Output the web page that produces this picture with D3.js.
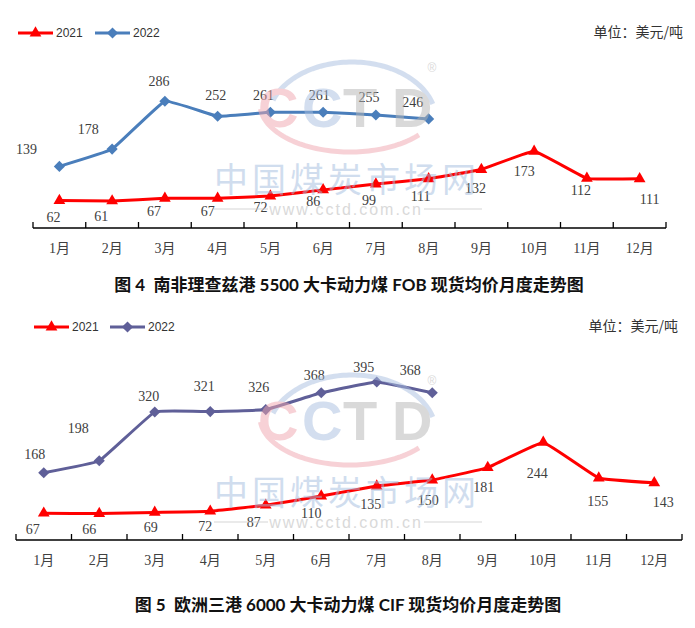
<!DOCTYPE html>
<html>
<head>
<meta charset="utf-8">
<script src="https://cdn.jsdelivr.net/npm/d3@7"></script>
<style>
    body { margin: 0; background: #fff; }
    text { white-space: pre; }
</style>
</head>
<body>
<svg id="chart" width="695" height="628"></svg>
<script>
const months = ["1月", "2月", "3月", "4月", "5月", "6月", "7月", "8月", "9月", "10月", "11月", "12月"];
const seriesNames = ["2021", "2022"];

// 南非理查兹港 5500 FOB
const fob2021 = [62, 61, 67, 67, 72, 86, 99, 111, 132, 173, 112, 111];
const fob2022 = [139, 178, 286, 252, 261, 261, 255, 246];

// 欧洲三港 6000 CIF
const cif2021 = [67, 66, 69, 72, 87, 110, 135, 150, 181, 244, 155, 143];
const cif2022 = [168, 198, 320, 321, 326, 368, 395, 368];

const titles = [
    "图 4  南非理查兹港 5500 大卡动力煤 FOB 现货均价月度走势图",
    "图 5  欧洲三港 6000 大卡动力煤 CIF 现货均价月度走势图"
];
const unitText = "单位：美元/吨";

// label nudges in px (labels were placed by hand)
const fob2021Nudge = [[-6, 17], [-11, 15], [-11, 13], [-10, 13], [-10, 11], [-10, 11], [-7, 16], [-8, 17], [-6, 19], [-10, 20], [-6, 12], [10, 20]];
const fob2022Nudge = [[-33, -17], [-24, -20], [-6, -20], [-2, -21], [-7, -17], [-4, -17], [-7, -18], [-16, -17]];
const cif2021Nudge = [[-11, 16], [-10, 15], [-4, 15], [-5, 15], [-12, 17], [-10, 17], [-6, 18], [-4, 20], [-4, 19], [-6, 31], [-1, 23], [9, 19]];
const cif2022Nudge = [[-9, -19], [-21, -33], [-6, -16], [-6, -26], [-7, -23], [-7, -18], [-13, -15], [-22, -23]];

const RED = "#ff0000";
const svg = d3.select("#chart");

const serif = "'Liberation Serif', 'Noto Sans CJK SC', serif";
const cjk = "'Noto Sans CJK SC', sans-serif";

/**
 * faint CCTD watermark, dy shifts it down for the second chart
 */
function drawWatermark(dy) {
    const wm = svg.append("g").attr("transform", `translate(0,${dy})`).attr("opacity", 0.5);

    const ellipseArc = (cx, cy, rx, ry, a0, a1) => {
        const pts = d3.range(a0, a1 + 0.5, 2).map(a => {
            const r = a * Math.PI / 180;
            return [cx + rx * Math.cos(r), cy + ry * Math.sin(r)];
        });
        return d3.line()(pts);
    };

    // blue upper arc, red lower arc
    wm.append("path")
        .attr("d", ellipseArc(352, 120, 84, 58, 200, 345))
        .attr("fill", "none").attr("stroke", "#a9bfe0").attr("stroke-width", 5);
    wm.append("path")
        .attr("d", ellipseArc(350, 104, 90, 48, 40, 175))
        .attr("fill", "none").attr("stroke", "#f0a5ae").attr("stroke-width", 5);

    const letters = [["C", "#f0a5ae", 258], ["C", "#a9bfe0", 302], ["T", "#b5b5b5", 343], ["D", "#b5b5b5", 392]];
    letters.forEach(([ch, col, lx]) => {
        wm.append("text")
            .attr("x", lx).attr("y", 127)
            .attr("font-family", "'Liberation Sans', Arial, sans-serif")
            .attr("font-weight", "bold")
            .attr("font-size", 56)
            .attr("fill", col)
            .text(ch);
    });
    wm.append("text")
        .attr("x", 432).attr("y", 72)
        .attr("text-anchor", "middle")
        .attr("font-family", "'Liberation Sans', Arial, sans-serif")
        .attr("font-size", 12)
        .attr("fill", "#b5b5b5")
        .text("®");

    wm.append("text")
        .attr("x", 214).attr("y", 192)
        .attr("font-family", cjk)
        .attr("font-size", 34)
        .attr("letter-spacing", 4)
        .attr("fill", "#a3bddf")
        .text("中国煤炭市场网");

    wm.append("text")
        .attr("x", 346).attr("y", 215)
        .attr("text-anchor", "middle")
        .attr("font-family", "'Liberation Sans', Arial, sans-serif")
        .attr("font-size", 16)
        .attr("letter-spacing", 2)
        .attr("fill", "#b5b5b5")
        .text("www.cctd.com.cn");
    wm.append("line").attr("x1", 214).attr("x2", 268).attr("y1", 209).attr("y2", 209)
        .attr("stroke", "#c8c8c8").attr("stroke-width", 1.5);
    wm.append("line").attr("x1", 424).attr("x2", 482).attr("y1", 209).attr("y2", 209)
        .attr("stroke", "#c8c8c8").attr("stroke-width", 1.5);
}

function markerPath(kind) {
    if (kind === "triangle") {
        return d3.symbol(d3.symbolTriangle, 60)();
    }
    return d3.symbol(d3.symbolSquare, 62)();
}

function drawMarker(g, kind, cx, cy, color) {
    g.append("path")
        .attr("d", markerPath(kind))
        .attr("transform", kind === "triangle"
            ? `translate(${cx},${cy})`
            : `translate(${cx},${cy}) rotate(45)`)
        .attr("fill", color);
}

function drawChart(cfg) {
    const g = svg.append("g");

    const x = d3.scaleBand().domain(months).range([cfg.x0, cfg.x1]);
    const y = d3.scaleLinear().domain([0, cfg.yMax]).range([cfg.axisY, cfg.yTop]);
    const cx = i => x(months[i]) + x.bandwidth() / 2;

    drawWatermark(cfg.wmDy);

    // category axis: labels via d3 axis, ticks on band edges pointing up
    const axis = g.append("g")
        .attr("transform", `translate(0,${cfg.axisY})`)
        .call(d3.axisBottom(x).tickSize(0).tickPadding(0));
    axis.select(".domain").remove();
    axis.selectAll("text")
        .attr("y", 20)
        .attr("dy", "0.35em")
        .attr("font-family", serif)
        .attr("font-size", 14)
        .attr("fill", "#404040");

    const edges = months.map(m => x(m)).concat([cfg.x1]);
    g.selectAll(".edge")
        .data(edges)
        .enter().append("line")
        .attr("x1", d => d).attr("x2", d => d)
        .attr("y1", cfg.axisY - 6).attr("y2", cfg.axisY)
        .attr("stroke", "#000").attr("stroke-width", 1.3);
    g.append("line")
        .attr("x1", cfg.x0).attr("x2", cfg.x1)
        .attr("y1", cfg.axisY).attr("y2", cfg.axisY)
        .attr("stroke", "#000").attr("stroke-width", 1.5);

    // Excel-style light smoothing
    const line = d3.line()
        .x((d, i) => cx(i))
        .y(d => y(d))
        .curve(d3.curveCardinal.tension(0.75));

    const series = [
        {name: seriesNames[0], values: cfg.a, nudge: cfg.aNudge, color: RED, marker: "triangle"},
        {name: seriesNames[1], values: cfg.b, nudge: cfg.bNudge, color: cfg.bColor, marker: "diamond"}
    ];

    series.forEach(s => {
        g.append("path")
            .datum(s.values)
            .attr("d", line)
            .attr("fill", "none")
            .attr("stroke", s.color)
            .attr("stroke-width", 3)
            .attr("stroke-linejoin", "round");
        s.values.forEach((v, i) => drawMarker(g, s.marker, cx(i), y(v), s.color));
        g.selectAll(null)
            .data(s.values)
            .enter().append("text")
            .attr("x", (d, i) => cx(i) + s.nudge[i][0])
            .attr("y", (d, i) => y(d) + s.nudge[i][1])
            .attr("dy", "0.35em")
            .attr("text-anchor", "middle")
            .attr("font-family", serif)
            .attr("font-size", 14)
            .attr("fill", "#404040")
            .text(d => d);
    });

    // legend
    series.forEach((s, k) => {
        const lx = cfg.legendX[k];
        g.append("line")
            .attr("x1", lx).attr("x2", lx + 35)
            .attr("y1", cfg.legendY).attr("y2", cfg.legendY)
            .attr("stroke", s.color).attr("stroke-width", 3);
        drawMarker(g, s.marker, lx + 17.5, cfg.legendY, s.color);
        g.append("text")
            .attr("x", lx + 38).attr("y", cfg.legendY)
            .attr("dy", "0.35em")
            .attr("font-family", "'Liberation Sans', Arial, sans-serif")
            .attr("font-size", 12)
            .attr("fill", "#333")
            .text(s.name);
    });

    g.append("text")
        .attr("x", cfg.unitX).attr("y", cfg.legendY - 1)
        .attr("dy", "0.35em")
        .attr("text-anchor", "end")
        .attr("font-family", cjk)
        .attr("font-size", 14)
        .attr("fill", "#333")
        .text(unitText);

    g.append("text")
        .attr("x", cfg.titleX).attr("y", cfg.titleY)
        .attr("dy", "0.35em")
        .attr("text-anchor", "middle")
        .attr("font-family", "Lato, 'Noto Sans CJK SC', sans-serif")
        .attr("font-weight", "bold")
        .attr("font-size", 17)
        .attr("fill", "#111")
        .text(cfg.title);
}

drawChart({
    a: fob2021, b: fob2022, aNudge: fob2021Nudge, bNudge: fob2022Nudge,
    bColor: "#4a7ebb",
    x0: 33, x1: 666, axisY: 228, yMax: 300, yTop: 95,
    legendX: [18, 95], legendY: 33, unitX: 683,
    title: titles[0], titleX: 349, titleY: 285.5,
    wmDy: 0
});

drawChart({
    a: cif2021, b: cif2022, aNudge: cif2021Nudge, bNudge: cif2022Nudge,
    bColor: "#5f5f98",
    x0: 16, x1: 682, axisY: 540, yMax: 400, yTop: 380,
    legendX: [34, 110], legendY: 327, unitX: 678,
    title: titles[1], titleX: 348, titleY: 605,
    wmDy: 313
});
</script>
</body>
</html>
